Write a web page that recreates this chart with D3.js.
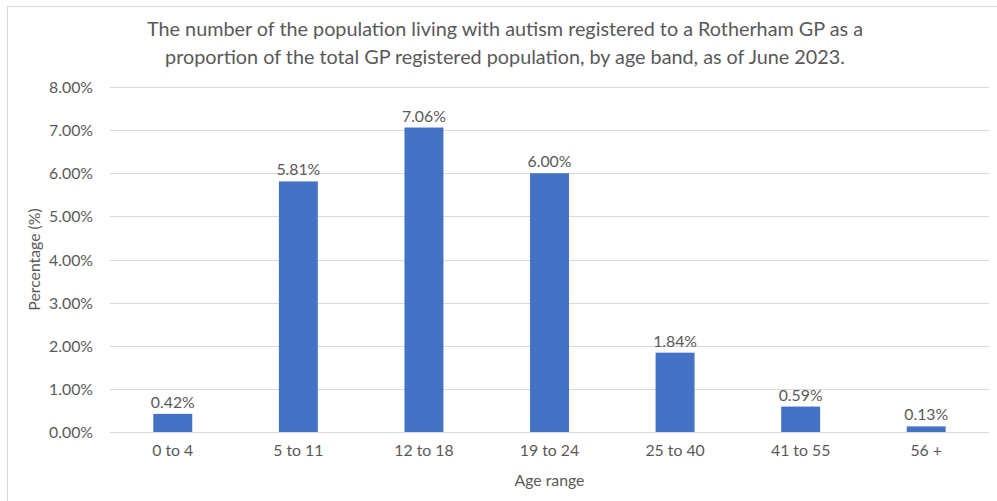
<!DOCTYPE html>
<html>
<head>
<meta charset="utf-8">
<script src="https://cdn.jsdelivr.net/npm/d3@7"></script>
<style>
  html, body { margin: 0; padding: 0; background: #fff; }
  svg { display: block; }
  text { font-family: Lato, "Open Sans", sans-serif; fill: #595959; }
</style>
</head>
<body>
<svg id="chart" width="997" height="501"></svg>
<script>
// Age bands and share of GP-registered population living with autism (%)
const categories = ["0 to 4", "5 to 11", "12 to 18", "19 to 24", "25 to 40", "41 to 55", "56 +"];
const values = [0.42, 5.81, 7.06, 6.00, 1.84, 0.59, 0.13];
const yTicks = [0, 1, 2, 3, 4, 5, 6, 7, 8];
const titleLines = [
  "The number of the population living with autism registered to a Rotherham GP as a",
  "proportion of the total GP registered population, by age band, as of June 2023."
];
const xTitle = "Age range";
const yTitle = "Percentage (%)";

const svg = d3.select("#chart");
const W = 997, H = 501;
const plot = { left: 110, right: 989, top: 87, bottom: 432 };
const small = 15.8;

// Chart frame
svg.append("rect")
  .attr("x", 7.5).attr("y", 6.5)
  .attr("width", W).attr("height", H)
  .attr("fill", "none").attr("stroke", "#d9d9d9").attr("stroke-width", 1);

const x = d3.scaleBand().domain(categories).range([plot.left, plot.right]).paddingInner(0.69).paddingOuter(0.345);
const y = d3.scaleLinear().domain([0, 8]).range([plot.bottom, plot.top]);

// Gridlines
svg.append("g").selectAll("line").data(yTicks).join("line")
  .attr("x1", plot.left).attr("x2", plot.right)
  .attr("y1", d => Math.round(y(d)) + 0.5).attr("y2", d => Math.round(y(d)) + 0.5)
  .attr("stroke", "#d9d9d9").attr("stroke-width", 1);

// Y axis tick labels
const yAxis = d3.axisLeft(y).tickValues(yTicks).tickFormat(d => d.toFixed(2) + "%").tickSize(0).tickPadding(0);
const gy = svg.append("g").attr("transform", `translate(${plot.left - 17},0)`).call(yAxis);
gy.select(".domain").remove();
gy.selectAll("text").attr("font-size", small).attr("fill", "#595959").style("font-family", "Lato, sans-serif").attr("dy", "0.35em");

// Bars
svg.append("g").selectAll("rect").data(values).join("rect")
  .attr("x", (d, i) => x(categories[i]))
  .attr("width", x.bandwidth())
  .attr("y", d => y(d))
  .attr("height", d => y(0) - y(d))
  .attr("fill", "#4472c4");

// Value labels
svg.append("g").selectAll("text").data(values).join("text")
  .attr("x", (d, i) => x(categories[i]) + x.bandwidth() / 2)
  .attr("y", d => y(d) - 6)
  .attr("text-anchor", "middle")
  .attr("font-size", small)
  .text(d => d.toFixed(2) + "%");

// X axis category labels
const xAxis = d3.axisBottom(x).tickSize(0).tickPadding(0);
const gx = svg.append("g").attr("transform", `translate(0,${plot.bottom + 24})`).call(xAxis);
gx.select(".domain").remove();
gx.selectAll("text").attr("font-size", small).attr("fill", "#595959").style("font-family", "Lato, sans-serif").attr("dy", 0);

// Axis titles
svg.append("text")
  .attr("x", (plot.left + plot.right) / 2).attr("y", 486)
  .attr("text-anchor", "middle").attr("font-size", small)
  .text(xTitle);

svg.append("text")
  .attr("transform", `translate(40,${(plot.top + plot.bottom) / 2}) rotate(-90)`)
  .attr("text-anchor", "middle").attr("font-size", small)
  .text(yTitle);

// Chart title
svg.append("g").selectAll("text").data(titleLines).join("text")
  .attr("x", 505).attr("y", (d, i) => 36 + i * 28)
  .attr("text-anchor", "middle").attr("font-size", 19.8)
  .text(d => d);
</script>
</body>
</html>
